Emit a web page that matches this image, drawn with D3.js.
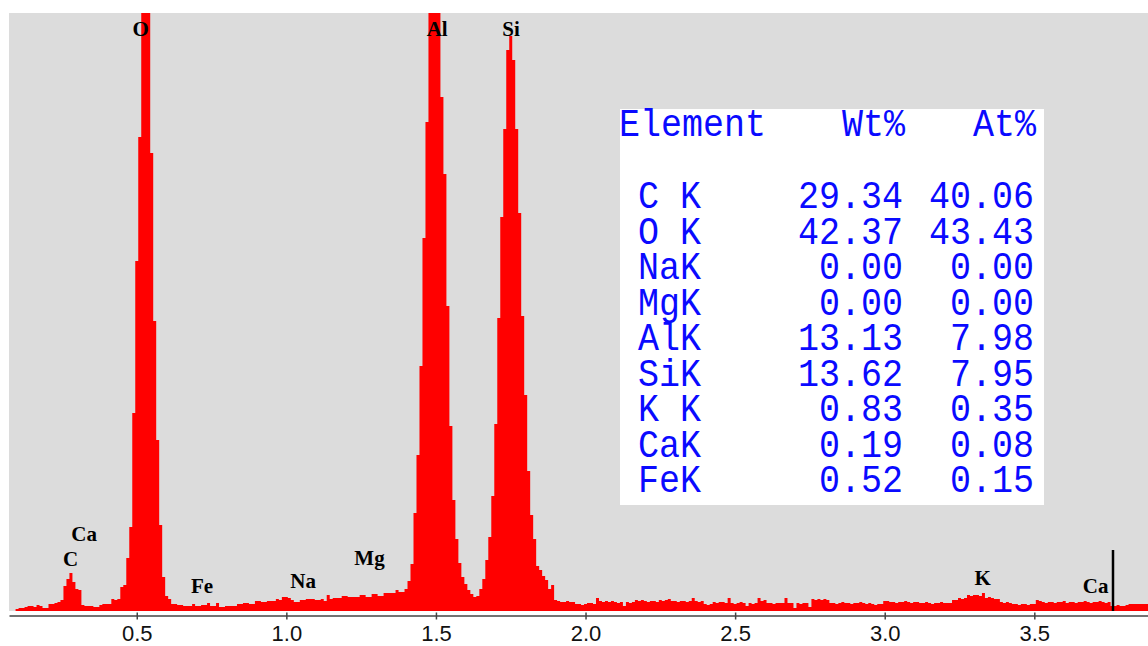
<!DOCTYPE html>
<html>
<head>
<meta charset="utf-8">
<script src="https://cdn.jsdelivr.net/npm/d3@7"></script>
<style>
  html, body { margin: 0; padding: 0; background: #fff; }
  svg { display: block; }
</style>
</head>
<body>
<svg></svg>
<script>
/* global d3 */

// Size of the page
let width = 1148,
    height = 646;

// Spectrum: 10 eV channels, first channel centred on 0.10 keV
let channelStart = 0.10,
    channelStep = 0.01;

// Counts per channel, one row per 0.1 keV
let counts = [
    2, 3, 3, 4, 5, 5, 4, 6, 5, 3,                       // 0.1
    3, 7, 7, 8, 9, 11, 25, 32, 38, 29,                  // 0.2
    22, 21, 6, 5, 5, 5, 4, 4, 6, 7,                     // 0.3
    7, 7, 12, 11, 12, 24, 26, 53, 84, 198,              // 0.4
    350, 474, 720, 800, 690, 458, 290, 171, 86, 34,     // 0.5
    15, 12, 7, 7, 6, 6, 5, 5, 5, 7,                     // 0.6
    5, 5, 6, 6, 8, 5, 5, 8, 4, 4,                       // 0.7
    5, 5, 5, 5, 7, 7, 8, 8, 7, 7,                       // 0.8
    10, 10, 9, 9, 10, 10, 10, 12, 11, 14,               // 0.9
    14, 13, 11, 9, 9, 11, 11, 12, 12, 12,               // 1.0
    11, 11, 12, 10, 16, 12, 13, 13, 13, 15,             // 1.1
    15, 14, 14, 14, 14, 16, 16, 14, 14, 17,             // 1.2
    17, 15, 15, 18, 18, 18, 18, 21, 19, 19,             // 1.3
    22, 30, 47, 98, 156, 245, 373, 489, 610, 700,       // 1.4
    720, 640, 514, 437, 305, 185, 111, 72, 48, 34,      // 1.5
    27, 21, 17, 14, 15, 22, 32, 51, 74, 115,            // 1.6
    187, 293, 394, 482, 561, 575, 551, 482, 398, 295,   // 1.7
    216, 140, 96, 72, 45, 41, 35, 31, 22, 26,           // 1.8
    11, 10, 9, 9, 10, 9, 9, 7, 7, 6,                    // 1.9
    7, 8, 8, 7, 13, 10, 9, 10, 9, 10,                   // 2.0
    9, 8, 9, 5, 9, 8, 9, 11, 10, 11,                    // 2.1
    10, 9, 10, 10, 9, 11, 10, 11, 12, 10,               // 2.2
    10, 9, 10, 10, 9, 10, 13, 10, 9, 10,                // 2.3
    7, 6, 7, 9, 8, 9, 9, 8, 13, 8,                      // 2.4
    7, 8, 9, 8, 5, 8, 7, 8, 13, 10,                     // 2.5
    11, 8, 8, 7, 8, 8, 8, 13, 8, 8,                     // 2.6
    3, 8, 7, 8, 8, 4, 12, 11, 12, 11,                   // 2.7
    12, 11, 8, 8, 7, 8, 9, 8, 8, 7,                     // 2.8
    8, 8, 9, 8, 7, 8, 7, 6, 7, 7,                       // 2.9
    10, 10, 9, 9, 8, 9, 9, 10, 9, 8,                    // 3.0
    9, 9, 8, 8, 9, 8, 7, 8, 8, 9,                       // 3.1
    8, 8, 8, 11, 11, 13, 12, 13, 16, 15,                // 3.2
    16, 16, 15, 18, 13, 14, 13, 12, 12, 9,              // 3.3
    8, 9, 8, 7, 7, 6, 7, 7, 6, 7,                       // 3.4
    7, 11, 10, 9, 8, 9, 9, 8, 9, 9,                     // 3.5
    10, 8, 9, 9, 8, 9, 9, 10, 9, 8,                     // 3.6
    9, 9, 10, 9, 8, 9, 5, 5, 6, 5,                      // 3.7
    5, 6, 7, 7, 7, 7, 7, 7, 7                           // 3.8
];

// Peak labels: text, energy (keV) and count level of the label baseline
let peakNames = ["O", "Al", "Si", "C", "Ca", "Fe", "Na", "Mg", "K", "Ca"];
let peakKeV = [0.513, 1.504, 1.751, 0.279, 0.324, 0.718, 1.056, 1.278, 3.327, 3.705];
let peakLevel = [575, 575, 575, 45, 70, 18, 23, 46, 26, 18];

// Cursor marker
let markerKeV = 3.763,
    markerLevel = 61;

// Axis ticks (keV)
let tickValues = [0.5, 1.0, 1.5, 2.0, 2.5, 3.0, 3.5];

// Quantification table
let elements = ["C K", "O K", "NaK", "MgK", "AlK", "SiK", "K K", "CaK", "FeK"];
let wtPct = [29.34, 42.37, 0.00, 0.00, 13.13, 13.62, 0.83, 0.19, 0.52];
let atPct = [40.06, 43.43, 0.00, 0.00, 7.98, 7.95, 0.35, 0.08, 0.15];

let svg = d3.select("svg")
    .attr("width", width)
    .attr("height", height);

// Plot area
let plot = {left: 9, right: 1148, top: 13, bottom: 611};

let x = d3.scaleLinear()
    .domain([0.073, 3.88])
    .range([plot.left, plot.right]);

let y = d3.scaleLinear()
    .domain([0, 598])
    .range([plot.bottom, plot.top]);

svg.append("defs").append("clipPath")
    .attr("id", "plotClip")
    .append("rect")
    .attr("x", plot.left)
    .attr("y", plot.top)
    .attr("width", plot.right - plot.left)
    .attr("height", plot.bottom - plot.top);

// Gray background
svg.append("rect")
    .attr("x", plot.left)
    .attr("y", plot.top)
    .attr("width", plot.right - plot.left)
    .attr("height", plot.bottom - plot.top)
    .style("fill", "#dcdcdc");

// Build step points for the histogram
let steps = [];
counts.forEach(function(c, i) {
    let e = channelStart + i * channelStep;
    steps.push([e - channelStep / 2, c]);
    steps.push([e + channelStep / 2, c]);
});

let area = d3.area()
    .x(function(d) { return x(d[0]); })
    .y0(y(0))
    .y1(function(d) { return y(d[1]); });

svg.append("path")
    .datum(steps)
    .attr("d", area)
    .attr("clip-path", "url(#plotClip)")
    .style("fill", "#ff0000");

// Cursor line
svg.append("line")
    .attr("x1", x(markerKeV))
    .attr("x2", x(markerKeV))
    .attr("y1", y(markerLevel))
    .attr("y2", y(0))
    .style("stroke", "#000")
    .style("stroke-width", 2.5);

// Peak labels
svg.append("g")
    .selectAll("text")
    .data(peakNames)
    .enter()
    .append("text")
    .attr("x", function(d, i) { return x(peakKeV[i]); })
    .attr("y", function(d, i) { return y(peakLevel[i]); })
    .attr("text-anchor", "middle")
    .style("font", "bold 21px 'Liberation Serif', serif")
    .style("fill", "#000")
    .text(function(d) { return d; });

// Energy axis
let axis = svg.append("g")
    .attr("transform", "translate(0, 615.5)")
    .call(d3.axisBottom(x)
        .tickValues(tickValues)
        .tickFormat(d3.format(".1f"))
        .tickSizeInner(4)
        .tickSizeOuter(0));

axis.select(".domain")
    .style("stroke", "#444")
    .style("stroke-width", 1.5);

axis.selectAll(".tick line")
    .attr("y1", -3)
    .style("stroke", "#444")
    .style("stroke-width", 1.5);

axis.selectAll(".tick text")
    .attr("y", 25)
    .attr("dy", null)
    .style("font", "22px 'Liberation Sans', Arial, sans-serif")
    .style("fill", "#111");

// Quantification table box
let table = svg.append("g");
let tableFont = "35px 'Liberation Mono', monospace";
let tableColor = "#0a0aff";
let rowTop = 208,
    rowGap = 35.5;

table.append("rect")
    .attr("x", 620)
    .attr("y", 109)
    .attr("width", 424)
    .attr("height", 396)
    .style("fill", "#fff");

function addText(txt, tx, ty, anchor) {
    table.append("text")
        .attr("transform", "translate(" + tx + "," + ty + ") scale(1,1.1)")
        .attr("text-anchor", anchor)
        .style("font", tableFont)
        .style("fill", tableColor)
        .text(txt);
}

addText("Element", 619, 136, "start");
addText("Wt%", 905, 136, "end");
addText("At%", 1036, 136, "end");

let fmt = d3.format(".2f");
elements.forEach(function(el, i) {
    let ry = rowTop + i * rowGap;
    addText(el, 638, ry, "start");
    addText(fmt(wtPct[i]), 903, ry, "end");
    addText(fmt(atPct[i]), 1034, ry, "end");
});
</script>
</body>
</html>
